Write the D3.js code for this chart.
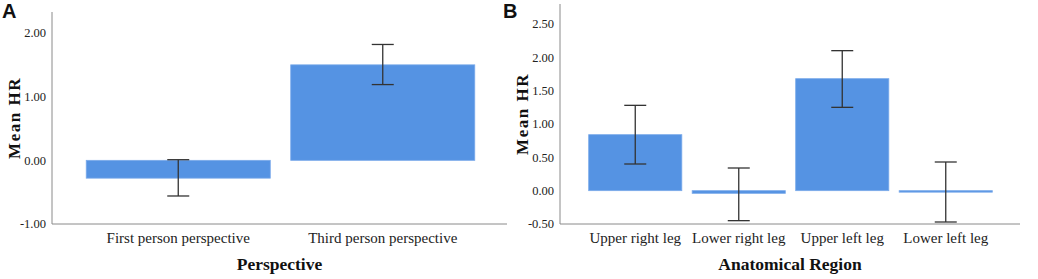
<!DOCTYPE html>
<html>
<head>
<meta charset="utf-8">
<script src="https://cdn.jsdelivr.net/npm/d3@7"></script>
<style>
  body { margin: 0; background: #fff; }
  svg { display: block; }
  text { font-family: "Liberation Serif", "Times New Roman", serif; }
</style>
</head>
<body>
<div id="chart"></div>
<script>
// Panel A: perspective
const perspCats = ["First person perspective", "Third person perspective"];
const perspMean = [-0.28, 1.50];
const perspLow = [-0.56, 1.19];
const perspHigh = [0.01, 1.82];
const perspTicks = [-1, 0, 1, 2];

// Panel B: anatomical region
const regionCats = ["Upper right leg", "Lower right leg", "Upper left leg", "Lower left leg"];
const regionMean = [0.84, -0.04, 1.68, -0.01];
const regionLow = [0.40, -0.45, 1.25, -0.47];
const regionHigh = [1.28, 0.34, 2.10, 0.43];
const regionTicks = [-0.5, 0, 0.5, 1, 1.5, 2, 2.5];

const W = 1038, H = 279;
const barColor = "#5593e3";
const fmt = v => d3.format(".2f")(v).replace("\u2212", "-");

const svg = d3.select("#chart").append("svg")
  .attr("width", W)
  .attr("height", H);

function panel(opts) {
  const g = svg.append("g");

  const y = d3.scaleLinear()
    .domain(opts.yDomain)
    .range([opts.bottom, opts.top]);

  const x = d3.scaleBand()
    .domain(opts.cats)
    .range(opts.barRange)
    .paddingInner(0.1)
    .paddingOuter(0.05);

  // axis lines
  g.append("line")
    .attr("x1", opts.left).attr("x2", opts.left)
    .attr("y1", opts.top).attr("y2", opts.bottom)
    .attr("stroke", "#8a8a8a");
  g.append("line")
    .attr("x1", opts.left).attr("x2", opts.right)
    .attr("y1", opts.bottom).attr("y2", opts.bottom)
    .attr("stroke", "#8a8a8a");

  // y tick labels
  g.selectAll(".ytick").data(opts.ticks).join("text")
    .attr("x", opts.left - 6)
    .attr("y", d => y(d))
    .attr("dy", "0.35em")
    .attr("text-anchor", "end")
    .style("font-size", "12.5px")
    .attr("fill", "#222")
    .text(fmt);

  // bars
  const rows = opts.cats.map((c, i) => ({ c, m: opts.mean[i], lo: opts.low[i], hi: opts.high[i] }));
  g.selectAll(".bar").data(rows).join("rect")
    .attr("x", d => x(d.c))
    .attr("width", x.bandwidth())
    .attr("y", d => y(Math.max(0, d.m)))
    .attr("height", d => Math.max(1.5, Math.abs(y(d.m) - y(0))))
    .attr("fill", barColor)
    .attr("stroke", "#7aaaea")
    .attr("stroke-width", 0.8);

  // error bars
  const cap = 11;
  rows.forEach(d => {
    const cx = x(d.c) + x.bandwidth() / 2;
    g.append("line")
      .attr("x1", cx).attr("x2", cx)
      .attr("y1", y(d.hi)).attr("y2", y(d.lo))
      .attr("stroke", "#333").attr("stroke-width", 1.3);
    [d.hi, d.lo].forEach(v => {
      g.append("line")
        .attr("x1", cx - cap).attr("x2", cx + cap)
        .attr("y1", y(v)).attr("y2", y(v))
        .attr("stroke", "#333").attr("stroke-width", 1.3);
    });
  });

  // x category labels
  g.selectAll(".xlab").data(opts.cats).join("text")
    .attr("x", d => x(d) + x.bandwidth() / 2)
    .attr("y", opts.bottom + 19)
    .attr("text-anchor", "middle")
    .style("font-size", "15px")
    .attr("fill", "#222")
    .text(d => d);

  // x title
  g.append("text")
    .attr("x", (opts.left + opts.right) / 2)
    .attr("y", 270)
    .attr("text-anchor", "middle")
    .style("font-size", "17.5px")
    .style("font-weight", "bold")
    .attr("fill", "#111")
    .text(opts.xTitle);

  // y title
  g.append("text")
    .attr("transform", `translate(${opts.left - 38},${(opts.top + opts.bottom) / 2}) rotate(-90)`)
    .attr("text-anchor", "middle")
    .attr("dy", "0.35em")
    .style("font-size", "17px")
    .style("font-weight", "bold")
    .style("letter-spacing", "1.5px")
    .attr("fill", "#111")
    .text("Mean HR");

  // panel letter
  g.append("text")
    .attr("x", opts.letterX)
    .attr("y", 18)
    .style("font-family", "'Liberation Sans', Arial, sans-serif")
    .style("font-size", "20px")
    .style("font-weight", "bold")
    .attr("fill", "#111")
    .text(opts.letter);
}

panel({
  cats: perspCats, mean: perspMean, low: perspLow, high: perspHigh, ticks: perspTicks,
  yDomain: [-1, 2.33], top: 12, bottom: 224, left: 52, right: 507,
  barRange: [76, 485], xTitle: "Perspective", letter: "A", letterX: 2
});

panel({
  cats: regionCats, mean: regionMean, low: regionLow, high: regionHigh, ticks: regionTicks,
  yDomain: [-0.5, 2.8], top: 4, bottom: 224, left: 560, right: 1020,
  barRange: [583.5, 997.5], xTitle: "Anatomical Region", letter: "B", letterX: 503
});
</script>
</body>
</html>
